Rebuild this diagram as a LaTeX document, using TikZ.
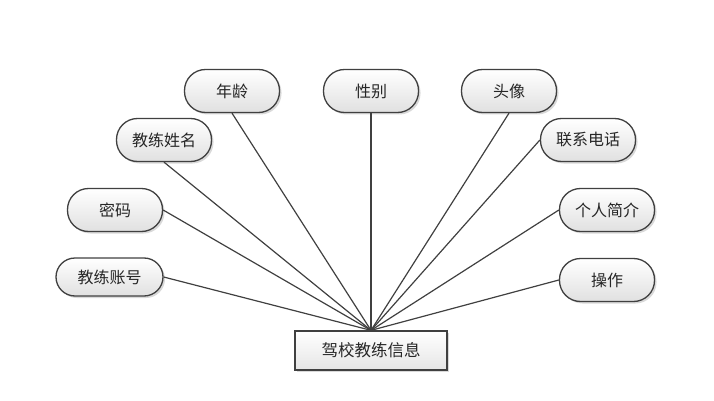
\documentclass[tikz,border=0pt]{standalone}
\usepackage{fontspec}
\newfontfamily\cjk{Noto Sans CJK SC}
\usetikzlibrary{shadows}
\begin{document}
\begin{tikzpicture}[x=1pt,y=-1pt,
  attr/.style={draw=black!75,line width=1.3pt,rounded corners=21pt,
    top color=white,bottom color=black!12,
    drop shadow={shadow xshift=2pt,shadow yshift=-2pt,fill=black!25,opacity=0.6},
    minimum width=95pt,minimum height=43pt,inner sep=0pt,
    font=\cjk\fontsize{16pt}{16pt}\selectfont,text=black!85},
  ent/.style={draw=black!75,line width=1.3pt,
    top color=white,bottom color=black!10,
    drop shadow={shadow xshift=2pt,shadow yshift=-2pt,fill=black!25,opacity=0.6},
    minimum width=152pt,minimum height=39pt,inner sep=0pt,
    font=\cjk\fontsize{16.5pt}{16.5pt}\selectfont,text=black!85},
  conn/.style={draw=black!75,line width=1.2pt}]
\useasboundingbox (0,0) rectangle (714,401);
\node[ent] (m) at (371,350.5) {驾校教练信息};
\node[attr] (a1) at (232,91) {年龄};
\node[attr] (a2) at (164,140) {教练姓名};
\node[attr] (a3) at (115,210) {密码};
\node[attr,minimum width=107pt,minimum height=38pt,rounded corners=19pt] (a4) at (109.5,277) {教练账号};
\node[attr] (a5) at (371,91) {性别};
\node[attr] (a6) at (509,91) {头像};
\node[attr] (a7) at (588,140) {联系电话};
\node[attr] (a8) at (607,210) {个人简介};
\node[attr] (a9) at (607,280) {操作};
\foreach \i/\an in {1/south,2/south,3/east,4/east,5/south,6/south,7/west,8/west,9/west} {
  \draw[conn] (a\i.\an) -- (m.north);
}
\end{tikzpicture}
\end{document}
